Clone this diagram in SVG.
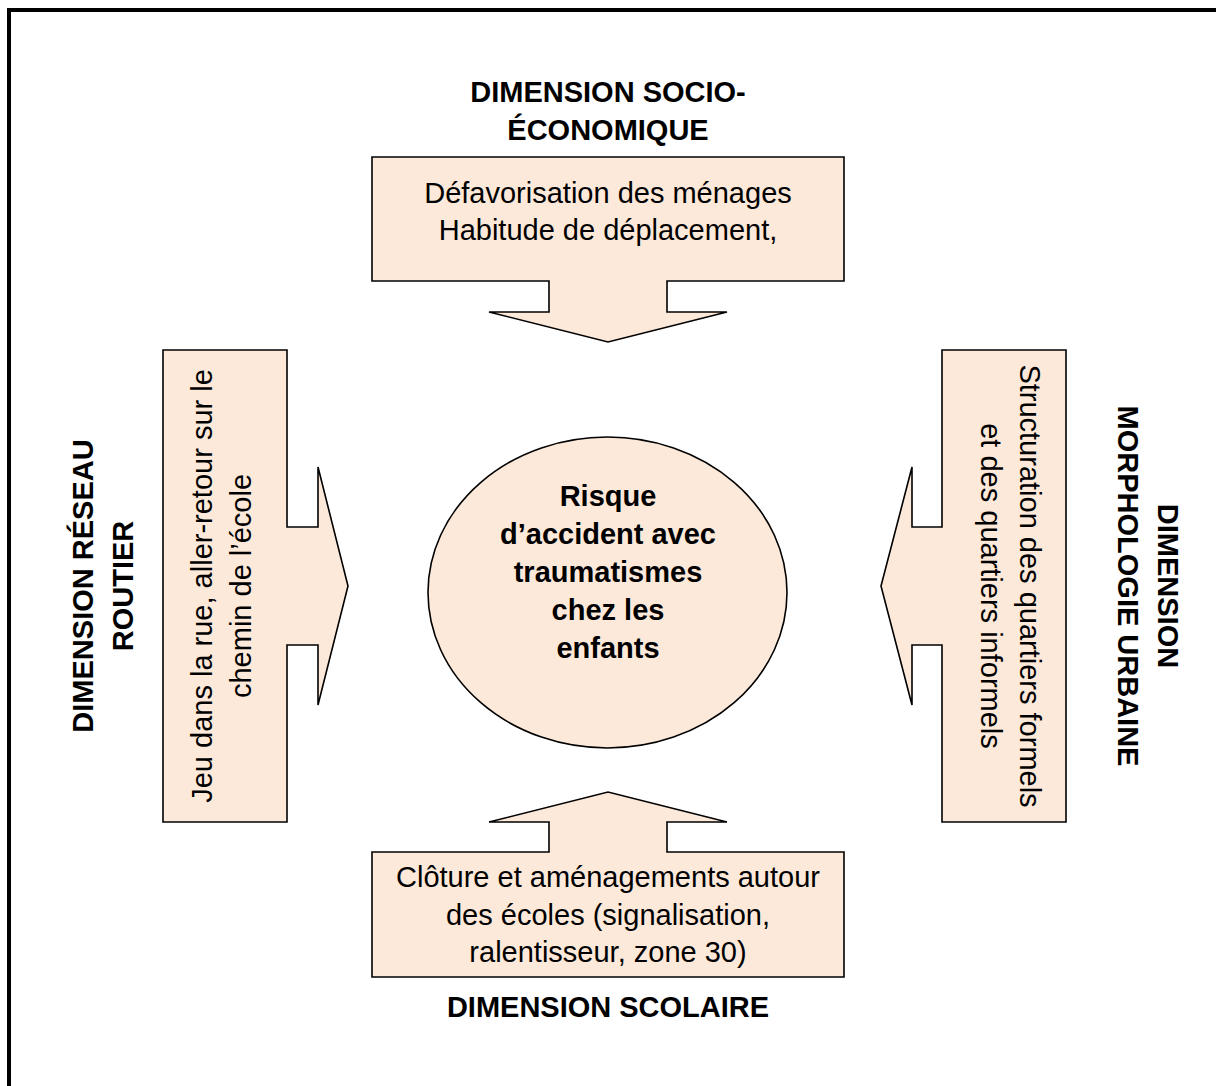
<svg xmlns="http://www.w3.org/2000/svg" width="1216" height="1086" viewBox="0 0 1216 1086">
<style>
.shape{fill:#FDE9D9;stroke:#000;stroke-width:1.6;stroke-linejoin:miter}
.t{font-family:"Liberation Sans",Arial,sans-serif;font-size:29px;fill:#000;text-anchor:middle}
.b{font-weight:bold}
</style>
<rect width="1216" height="1086" fill="#fff"/>
<path d="M9,1086 V10 H1216" fill="none" stroke="#000" stroke-width="4"/>
<g id="connectors"></g>
<g id="top-arrow">
<path class="shape" d="M372,157 H844 V281 H667 V312 H727 L608,342 L489,312 H549 V281 H372 Z"/>
<text class="t" x="608" y="203">Défavorisation des ménages</text>
<text class="t" x="608" y="240">Habitude de déplacement,</text>
</g>
<g id="top-title">
<text class="t b" x="608" y="101.5">DIMENSION SOCIO-</text>
<text class="t b" x="608" y="140">ÉCONOMIQUE</text>
</g>
<g id="bottom-arrow">
<path class="shape" d="M372,977 H844 V852 H667 V822 H727 L608,792 L489,822 H549 V852 H372 Z"/>
<text class="t" x="608" y="887">Clôture et aménagements autour</text>
<text class="t" x="608" y="924.5">des écoles (signalisation,</text>
<text class="t" x="608" y="962">ralentisseur, zone 30)</text>
</g>
<g id="bottom-title">
<text class="t b" x="608" y="1017">DIMENSION SCOLAIRE</text>
</g>
<g id="left-arrow">
<path class="shape" d="M163,350 V822 H287 V645 H318 V705 L348,586 L318,467 V527 H287 V350 Z"/>
<text class="t" transform="translate(212,586) rotate(-90)" x="0" y="0">Jeu dans la rue, aller-retour sur le</text>
<text class="t" transform="translate(251,586) rotate(-90)" x="0" y="0">chemin de l’école</text>
</g>
<g id="left-title">
<text class="t b" transform="translate(93,586) rotate(-90)" x="0" y="0">DIMENSION RÉSEAU</text>
<text class="t b" transform="translate(133,586) rotate(-90)" x="0" y="0">ROUTIER</text>
</g>
<g id="right-arrow">
<path class="shape" d="M1066,350 V822 H942 V645 H912 V705 L881,586 L912,467 V527 H942 V350 Z"/>
<text class="t" transform="translate(1020,586) rotate(90)" x="0" y="0">Structuration des quartiers formels</text>
<text class="t" transform="translate(981,586) rotate(90)" x="0" y="0">et des quartiers informels</text>
</g>
<g id="right-title">
<text class="t b" transform="translate(1158,586) rotate(90)" x="0" y="0">DIMENSION</text>
<text class="t b" transform="translate(1118,586) rotate(90)" x="0" y="0">MORPHOLOGIE URBAINE</text>
</g>
<g id="center">
<ellipse class="shape" cx="607.5" cy="592.5" rx="179.5" ry="155.5"/>
<text class="t b" x="608" y="506">Risque</text>
<text class="t b" x="608" y="544">d’accident avec</text>
<text class="t b" x="608" y="582">traumatismes</text>
<text class="t b" x="608" y="620">chez les</text>
<text class="t b" x="608" y="658">enfants</text>
</g>
</svg>
